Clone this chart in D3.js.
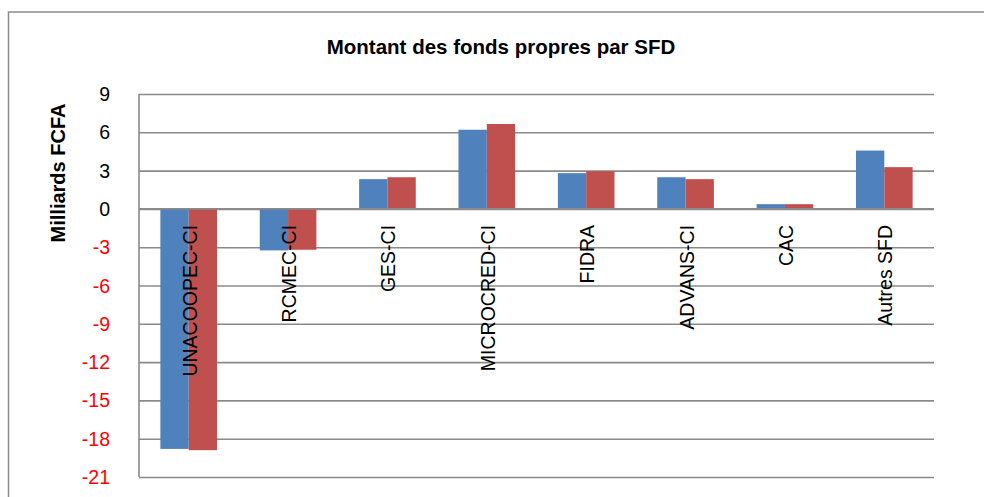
<!DOCTYPE html>
<html>
<head>
<meta charset="utf-8">
<script src="https://cdn.jsdelivr.net/npm/d3@7"></script>
<style>
  html, body { margin: 0; padding: 0; background: #fff; }
  svg { display: block; }
  text { font-family: "Liberation Sans", Arial, sans-serif; }
</style>
</head>
<body>
<svg id="chart" width="984" height="497"></svg>
<script>
const categories = ["UNACOOPEC-CI", "RCMEC-CI", "GES-CI", "MICROCRED-CI", "FIDRA", "ADVANS-CI", "CAC", "Autres SFD"];
const seriesA = [-18.8, -3.25, 2.33, 6.2, 2.8, 2.48, 0.37, 4.57];
const seriesB = [-18.9, -3.2, 2.48, 6.65, 2.95, 2.33, 0.37, 3.27];
const yTicks = [9, 6, 3, 0, -3, -6, -9, -12, -15, -18, -21];
const chartTitle = "Montant des fonds propres par SFD";
const yTitle = "Milliards FCFA";

const series = [
  { name: "A", values: seriesA, color: "#4F81BD" },
  { name: "B", values: seriesB, color: "#C0504D" }
];

const svg = d3.select("#chart");
const W = 984, H = 497;
const plot = { left: 139, right: 934, top: 94, bottom: 477 };

// outer frame
svg.append("rect")
  .attr("x", 8.5).attr("y", 12)
  .attr("width", W + 10).attr("height", H + 10)
  .attr("fill", "none").attr("stroke", "#8c8c8c").attr("stroke-width", 1.5);

const y = d3.scaleLinear().domain([-21, 9]).range([plot.bottom, plot.top]);
const x = d3.scaleBand().domain(categories).range([plot.left, plot.right])
  .paddingInner(0.43).paddingOuter(0.215);
const xs = d3.scaleBand().domain(series.map(s => s.name)).range([0, x.bandwidth()]);

// gridlines
const yAxis = d3.axisLeft(y).tickValues(yTicks).tickSize(-(plot.right - plot.left)).tickFormat("");
const gAxis = svg.append("g").attr("transform", `translate(${plot.left},0)`).call(yAxis);
gAxis.select(".domain").remove();
gAxis.selectAll(".tick line").attr("stroke", "#8a8a8a").attr("stroke-width", 1.6);

// left axis line
svg.append("line")
  .attr("x1", plot.left).attr("x2", plot.left)
  .attr("y1", plot.top).attr("y2", plot.bottom)
  .attr("stroke", "#8a8a8a").attr("stroke-width", 1.6);

// tick labels
svg.append("g").selectAll("text").data(yTicks).join("text")
  .attr("x", 110).attr("y", d => y(d))
  .attr("dy", "0.36em")
  .attr("text-anchor", "end")
  .attr("font-size", 19.5)
  .attr("fill", d => d < 0 ? "#ff0000" : "#000")
  .text(d => d);

// bars
const groups = svg.append("g").selectAll("g").data(series).join("g")
  .attr("fill", d => d.color);
groups.selectAll("rect").data(s => s.values.map((v, i) => ({ v, c: categories[i], s: s.name })))
  .join("rect")
  .attr("x", d => x(d.c) + xs(d.s))
  .attr("width", xs.bandwidth())
  .attr("y", d => y(Math.max(0, d.v)))
  .attr("height", d => Math.abs(y(d.v) - y(0)));

// zero line on top
svg.append("line")
  .attr("x1", plot.left).attr("x2", plot.right)
  .attr("y1", y(0)).attr("y2", y(0))
  .attr("stroke", "#8a8a8a").attr("stroke-width", 1.6);

// category labels
svg.append("g").selectAll("text").data(categories).join("text")
  .attr("transform", d => `translate(${x(d) + x.bandwidth() / 2 + 1},${y(0) + 16}) rotate(-90)`)
  .attr("text-anchor", "end")
  .attr("dy", "0.36em")
  .attr("font-size", 19.5)
  .attr("fill", "#000")
  .text(d => d);

// title
svg.append("text")
  .attr("x", 501).attr("y", 47)
  .attr("dy", "0.36em")
  .attr("text-anchor", "middle")
  .attr("font-size", 20.5)
  .attr("font-weight", "bold")
  .text(chartTitle);

// y axis title
svg.append("text")
  .attr("transform", `translate(58,173) rotate(-90)`)
  .attr("text-anchor", "middle")
  .attr("dy", "0.36em")
  .attr("font-size", 20)
  .attr("font-weight", "bold")
  .text(yTitle);
</script>
</body>
</html>
